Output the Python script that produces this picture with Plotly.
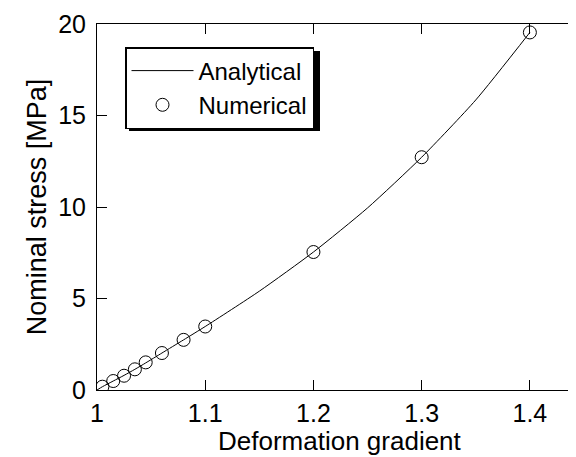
import plotly.graph_objects as go

# Numerical results
num_x = [1.005, 1.015, 1.025, 1.035, 1.045, 1.06, 1.08, 1.1, 1.2, 1.3, 1.4]
num_y = [0.18, 0.49, 0.78, 1.13, 1.51, 2.02, 2.74, 3.47, 7.54, 12.72, 19.54]

# Analytical curve
ana_x = [1.0, 1.005, 1.015, 1.025, 1.035, 1.045, 1.06, 1.08, 1.1, 1.15, 1.2, 1.25, 1.3, 1.35, 1.4]
ana_y = [0.0, 0.18, 0.49, 0.8, 1.13, 1.48, 2.02, 2.74, 3.47, 5.4, 7.54, 9.95, 12.72, 15.85, 19.54]

x_ticks = [1.0, 1.1, 1.2, 1.3, 1.4]
x_tick_labels = ["1", "1.1", "1.2", "1.3", "1.4"]
y_ticks = [0, 5, 10, 15, 20]
x_title = "Deformation gradient"
y_title = "Nominal stress [MPa]"

FONT = "Liberation Sans, Arial, sans-serif"

fig = go.Figure()
fig.add_trace(go.Scatter(
    x=ana_x, y=ana_y, mode="lines", name="Analytical",
    line=dict(color="black", width=1, shape="spline", smoothing=0.6),
))
fig.add_trace(go.Scatter(
    x=num_x, y=num_y, mode="markers", name="Numerical",
    marker=dict(symbol="circle-open", size=13, color="black", line=dict(width=1, color="black")),
))

# page has an 8px body margin; figure coords = screen coords - 8
OFF = 8
W, H = 576, 457
L, R, T, B = 97 - OFF, 0, 24 - OFF, 457 - (390 - OFF)
pw, ph = W - L - R, H - T - B

def px_x(p):  # screen pixel -> paper x
    return (p - OFF - L) / pw

def px_y(p):  # screen pixel -> paper y
    return 1 - (p - OFF - T) / ph

# legend shadow
fig.add_shape(type="rect", xref="paper", yref="paper",
              x0=px_x(129), x1=px_x(320), y0=px_y(131), y1=px_y(51),
              fillcolor="black", line=dict(width=0), layer="above")

# x-axis title
fig.add_annotation(text=x_title, xref="paper", yref="paper",
                   x=px_x(340), y=px_y(441), xanchor="center", yanchor="middle",
                   showarrow=False, font=dict(family=FONT, size=26, color="black"))

fig.update_layout(
    width=W, height=H,
    margin=dict(l=L, r=R, t=T, b=B),
    paper_bgcolor="white", plot_bgcolor="white",
    font=dict(family=FONT, color="black", size=25),
    showlegend=True,
    legend=dict(
        x=px_x(125), y=px_y(47), xanchor="left", yanchor="top",
        bgcolor="white", bordercolor="black", borderwidth=1.5,
        font=dict(family=FONT, size=24, color="black"),
        itemwidth=62, tracegroupgap=0,
    ),
    xaxis=dict(
        range=[1.0, 1.45],
        tickvals=x_ticks, ticktext=x_tick_labels,
        ticks="inside", ticklen=10, tickcolor="black", tickwidth=1,
        showline=True, linecolor="black", linewidth=1, mirror="ticks",
        showgrid=False, zeroline=False,
        tickfont=dict(size=25), ticklabelstandoff=1,
    ),
    yaxis=dict(
        range=[0, 20],
        tickvals=y_ticks,
        ticks="inside", ticklen=10, tickcolor="black", tickwidth=1,
        showline=True, linecolor="black", linewidth=1, mirror="ticks",
        showgrid=False, zeroline=False,
        tickfont=dict(size=25), ticklabelstandoff=5,
        title=dict(text=y_title, font=dict(size=27), standoff=3),
    ),
)

fig.write_html("out.html")
